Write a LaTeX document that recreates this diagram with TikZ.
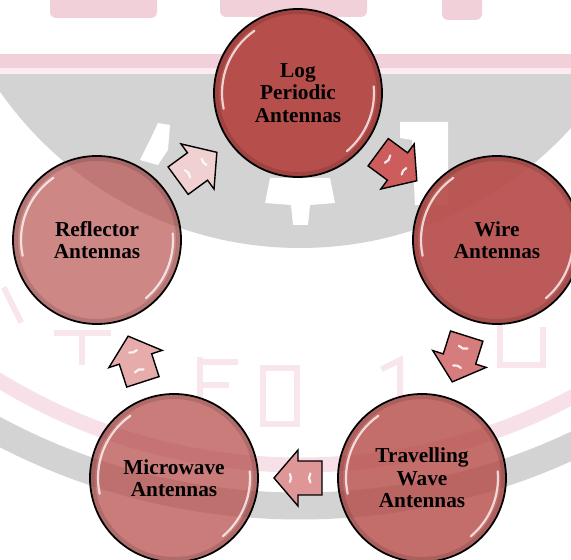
\documentclass[tikz,border=0pt]{standalone}
\usepackage{fontspec}
\setmainfont{Liberation Serif}
\usetikzlibrary{calc}
\definecolor{wmgray}{RGB}{211,211,211}
\definecolor{wmpink}{RGB}{242,208,217}
\definecolor{wmpinklight}{RGB}{252,236,241}
\definecolor{wmband}{RGB}{247,224,231}
\definecolor{wmlet}{RGB}{248,230,236}
\definecolor{circbase}{RGB}{182,78,75}
\definecolor{arA}{RGB}{205,92,92}
\definecolor{arB}{RGB}{214,124,124}
\definecolor{arC}{RGB}{222,150,150}
\definecolor{arD}{RGB}{230,172,172}
\definecolor{arE}{RGB}{240,208,208}
\newcommand\blockarr[3]{%
  \begin{scope}[shift={(#1)}, rotate=#2]
    \draw[blockarrow, fill=#3] (-24,-17) -- (0,-17) -- (0,-28) -- (24,0) -- (0,28) -- (0,17) -- (-24,17) -- cycle;
    \draw[white, opacity=.85, line width=2.2pt, line cap=round] ([shift={(150:8)}]15,0) arc[start angle=150, end angle=210, radius=8];
    \draw[white, opacity=.85, line width=2.2pt, line cap=round] ([shift={(-35:8)}]-19,0) arc[start angle=-35, end angle=35, radius=8];
  \end{scope}}
\begin{document}
\begin{tikzpicture}[x=1pt,y=1pt,
  bubble/.style={circle, minimum size=168pt, inner sep=0pt, draw=black, line width=1.8pt,
    fill=circbase, text opacity=1, draw opacity=1, align=center,
    font=\fontsize{21.3}{22.5}\selectfont\bfseries},
  gloss/.style={white, line width=2.2pt, line cap=round, opacity=0.75},
  blockarrow/.style={draw=black, line width=1.4pt, line join=miter},
  wmstroke/.style={wmlet, line width=6pt, line cap=rect}
]
\useasboundingbox (0,0) rectangle (571,560);
% ---- watermark ----
\fill[wmpink, rounded corners=6pt] (50,542) rectangle (157,566);
\fill[wmpink, rounded corners=6pt] (220,543) rectangle (367,566);
\fill[wmpink, rounded corners=6pt] (442,540) rectangle (482,566);
\fill[wmpink] (0,492) rectangle (571,506);
\fill[wmpinklight] (0,485) rectangle (571,492);
\begin{scope}
  \clip (0,0) rectangle (571,485);
  \fill[wmgray] (300,678) circle (366);
\end{scope}
\fill[white] (270,382) -- (330,382) -- (335,357) -- (310,355) -- (308,335) -- (293,335) -- (291,355) -- (265,357) -- cycle;
\fill[white] (400,438) -- (448,438) -- (448,355) -- (415,355) -- (412,420) -- (400,422) -- cycle;
\fill[white] (140,400) -- (150,420) -- (158,437) -- (170,435) -- (168,410) -- (158,395) -- cycle;
\begin{scope}
  \clip (0,0) rectangle (571,560);
  \draw[wmband, line width=15pt] (300,673) circle (578);
  \draw[wmgray, line width=27pt] (300,699) circle (645);
\end{scope}
\draw[wmstroke] (200,200) -- (200,165);
\draw[wmstroke] (200,198) -- (235,198);
\draw[wmstroke] (200,175) -- (226,175);
\draw[wmstroke] (263,192) rectangle (297,136);
\draw[wmstroke] (384,192) -- (400,200) -- (400,165);
\draw[wmstroke] (500,235) -- (500,195) -- (543,195) -- (543,230);
\draw[wmstroke] (5,270) -- (20,240);
\draw[wmstroke] (57,227) -- (108,227);
\draw[wmstroke] (82,227) -- (82,198);
% ---- circles ----
\node[bubble] (log) at (298,467) {Log\\Periodic\\Antennas};
\node[bubble, fill opacity=0.93] (wire) at (497,320) {Wire\\Antennas};
\node[bubble, fill opacity=0.82] (trav) at (422,82) {Travelling\\Wave\\Antennas};
\node[bubble, fill opacity=0.74] (micro) at (174,82) {Microwave\\Antennas};
\node[bubble, fill opacity=0.68] (refl) at (97,320) {Reflector\\Antennas};
\foreach \n in {log,wire,trav,micro,refl} {
  \draw[black, opacity=.12, line width=4pt] (\n.center) circle (81);
  \draw[gloss] ([shift={(125:76)}]\n.center) arc[start angle=125, end angle=192, radius=76];
  \draw[gloss] ([shift={(5:76)}]\n.center) arc[start angle=5, end angle=-50, radius=76];
}
% ---- arrows ----
\coordinate (m1) at ($(log)!0.5!(wire)$);
\coordinate (m2) at ($(wire)!0.5!(trav)$);
\coordinate (m3) at ($(trav)!0.5!(micro)$);
\coordinate (m4) at ($(micro)!0.5!(refl)$);
\coordinate (m5) at ($(refl)!0.5!(log)$);
\blockarr{m1}{-36.45}{arA}
\blockarr{m2}{-107.5}{arB}
\blockarr{m3}{180}{arC}
\blockarr{m4}{107.9}{arD}
\blockarr{m5}{36.2}{arE}
\end{tikzpicture}
\end{document}
